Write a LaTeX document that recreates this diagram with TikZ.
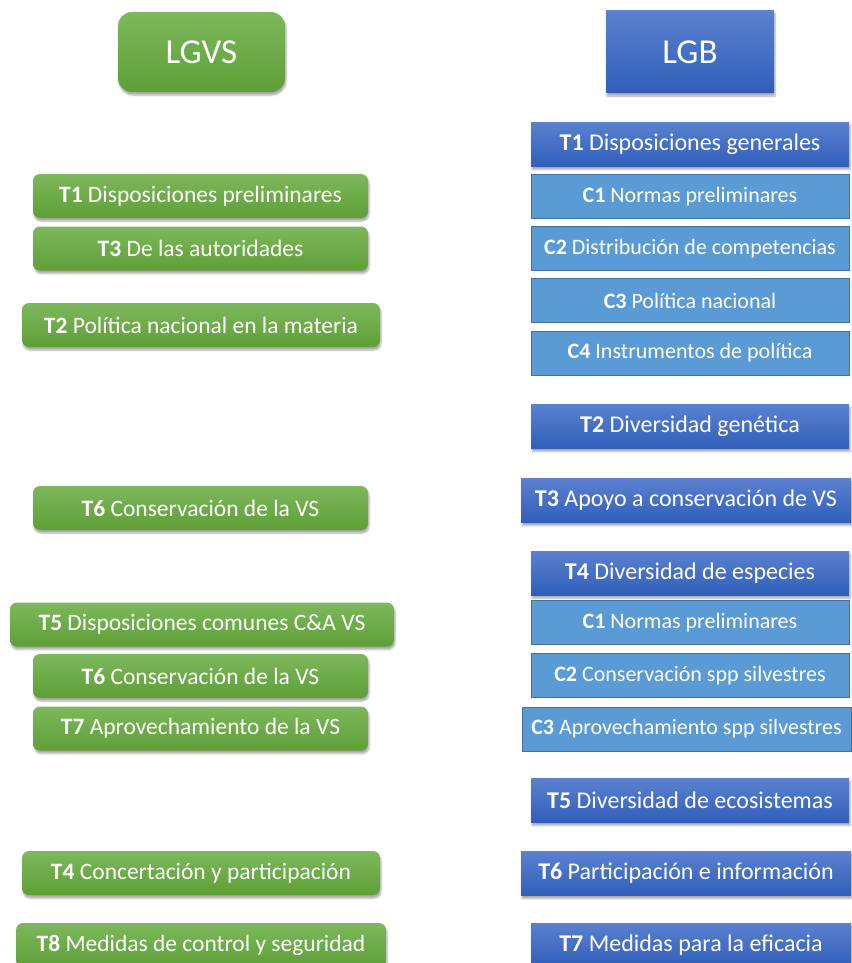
\documentclass[tikz,border=0pt]{standalone}
\usepackage{fontspec}
\setmainfont{Carlito}
\usetikzlibrary{shadows.blur}
\definecolor{gtop}{HTML}{7DB85C}
\definecolor{gbot}{HTML}{5E9F36}
\definecolor{btop}{HTML}{5B81CF}
\definecolor{bbot}{HTML}{2F5EBA}
\definecolor{cfill}{HTML}{5B9BD5}
\definecolor{cline}{HTML}{41719C}
\tikzset{
	greenbox/.style={rounded corners=7pt, top color=gtop, bottom color=gbot, text=white,
		font=\fontsize{23.5}{28}\selectfont, minimum height=44pt, inner sep=1pt,
		blur shadow={shadow xshift=1pt, shadow yshift=-3pt, shadow opacity=35}},
	bluebox/.style={top color=btop, bottom color=bbot, text=white,
		font=\fontsize{24}{28}\selectfont, minimum height=44pt, inner sep=1pt,
		blur shadow={shadow xshift=1pt, shadow yshift=-3pt, shadow opacity=35}},
	chapbox/.style={fill=cfill, draw=cline, line width=1pt, text=white,
		font=\fontsize{22}{26}\selectfont, minimum height=44pt, inner sep=1pt},
}
\begin{document}
\begin{tikzpicture}[x=1pt, y=-1pt]
	\useasboundingbox (0,0) rectangle (851,963);
	
	%%% LGVS %%%
	\node[greenbox, rounded corners=14pt, minimum width=167pt, minimum height=80pt,
		font=\fontsize{35}{40}\selectfont] (lgvs) at (201.5,52) {LGVS};
	
	\node[greenbox, minimum width=335pt] (lt1) at (200.5,196) {\textbf{T1} Disposiciones preliminares};
	\node[greenbox, minimum width=335pt] (lt3) at (200.5,248.5) {\textbf{T3} De las autoridades};
	\node[greenbox, minimum width=358pt] (lt2) at (201,325) {\textbf{T2} Política nacional en la materia};
	
	\node[greenbox, minimum width=335pt] (lt6a) at (200.5,508) {\textbf{T6} Conservación de la VS};
	
	\node[greenbox, minimum width=384pt] (lt5) at (202,624.5) {\textbf{T5} Disposiciones comunes C\&A VS};
	\node[greenbox, minimum width=335pt] (lt6) at (200.5,676) {\textbf{T6} Conservación de la VS};
	\node[greenbox, minimum width=335pt] (lt7) at (200.5,728.5) {\textbf{T7} Aprovechamiento de la VS};
	
	\node[greenbox, minimum width=358pt] (lt4) at (201,873) {\textbf{T4} Concertación y participación};
	\node[greenbox, minimum width=370pt] (lt8) at (201,945) {\textbf{T8} Medidas de control y seguridad};
	
	%%% LGB %%%
	\node[bluebox, minimum width=168pt, minimum height=82pt,
		font=\fontsize{35}{40}\selectfont] (lgb) at (690,52) {LGB};
	
	\node[bluebox, minimum width=318pt] (rt1) at (690,144.5) {\textbf{T1} Disposiciones generales};
	\node[chapbox, minimum width=318pt] (rc1) at (690,196.5) {\textbf{C1} Normas preliminares};
	\node[chapbox, minimum width=318pt] (rc2) at (690,248.5) {\textbf{C2} Distribución de competencias};
	\node[chapbox, minimum width=318pt] (rc3) at (690,300.5) {\textbf{C3} Política nacional};
	\node[chapbox, minimum width=318pt] (rc4) at (690,353) {\textbf{C4} Instrumentos de política};
	
	\node[bluebox, minimum width=318pt] (rt2) at (690,426.5) {\textbf{T2} Diversidad genética};
	\node[bluebox, minimum width=330pt] (rt3) at (686,500.5) {\textbf{T3} Apoyo a conservación de VS};
	
	\node[bluebox, minimum width=318pt] (rt4) at (690,573) {\textbf{T4} Diversidad de especies};
	\node[chapbox, minimum width=318pt] (rc1b) at (690,622.5) {\textbf{C1} Normas preliminares};
	\node[chapbox, minimum width=318pt] (rc2b) at (690,675.5) {\textbf{C2} Conservación spp silvestres};
	\node[chapbox, minimum width=329pt] (rc3b) at (686.5,729) {\textbf{C3} Aprovechamiento spp silvestres};
	
	\node[bluebox, minimum width=318pt] (rt5) at (690,800.5) {\textbf{T5} Diversidad de ecosistemas};
	\node[bluebox, minimum width=330pt] (rt6) at (686,873.5) {\textbf{T6} Participación e información};
	\node[bluebox, minimum width=320pt] (rt7) at (691,945) {\textbf{T7} Medidas para la eficacia};
\end{tikzpicture}
\end{document}
